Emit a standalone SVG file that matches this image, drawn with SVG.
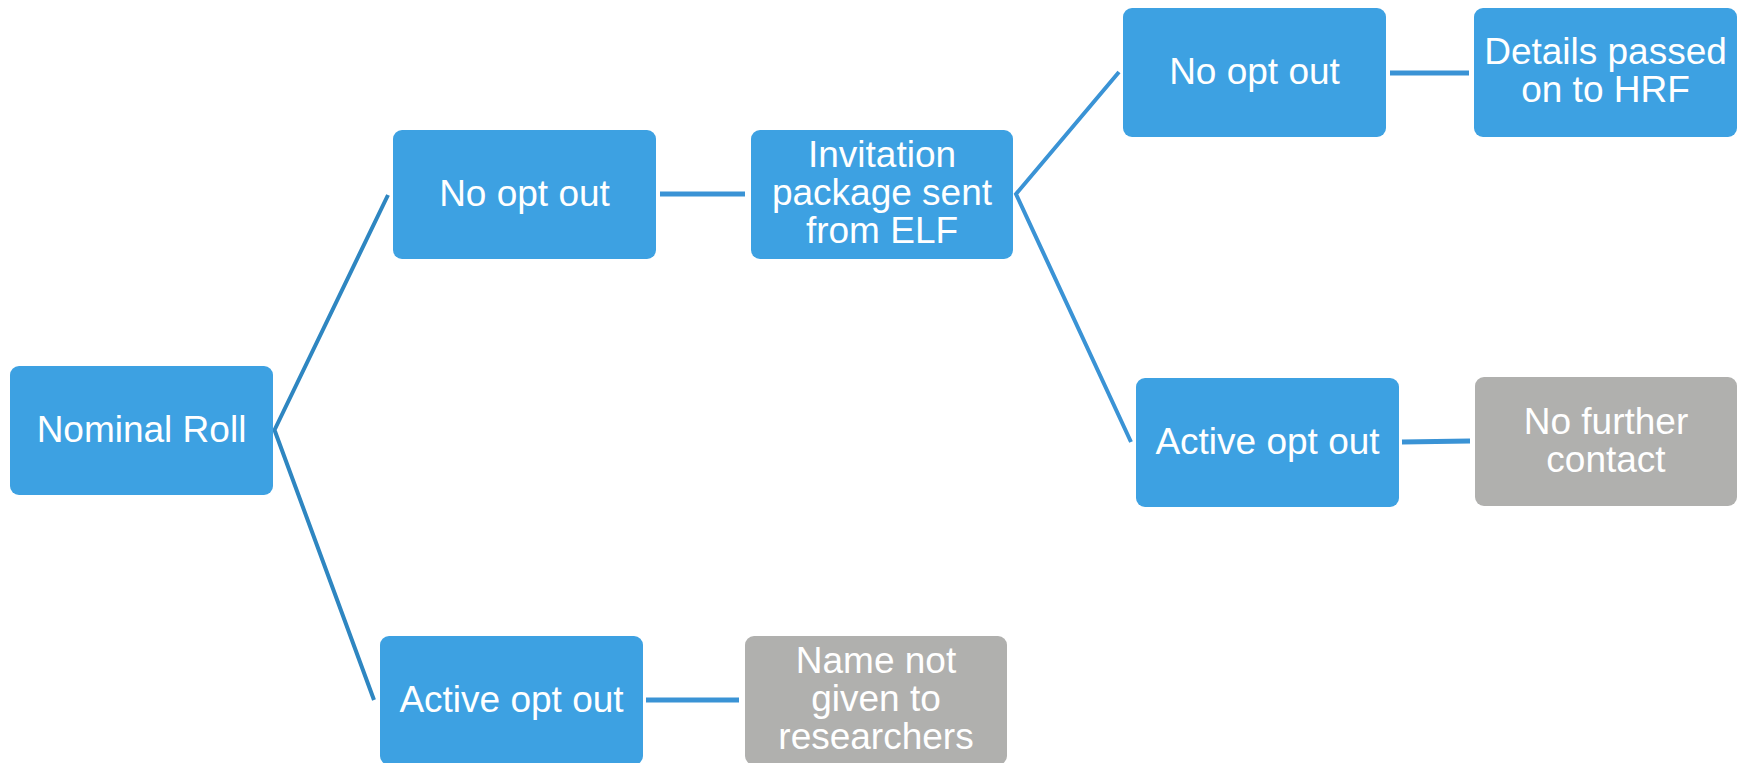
<svg xmlns="http://www.w3.org/2000/svg" width="1740" height="763" viewBox="0 0 1740 763">
<style>
.blue{fill:#3DA1E2}
.gray{fill:#B0B0AE}
text{font-family:"Liberation Sans",Arial,sans-serif;font-size:37px;fill:#FFFFFF;text-anchor:middle}
.c1{stroke:#2E86C1;stroke-width:4;fill:none}
.c2{stroke:#3A93D5;stroke-width:4;fill:none}
.h{stroke:#3A93D5;stroke-width:5;fill:none}
</style>
<rect width="1740" height="763" fill="#FFFFFF"/>
<g id="connectors">
<polyline class="c1" points="388,195 274.5,430 374,700"/>
<line class="h" x1="660" y1="194" x2="745" y2="194"/>
<polyline class="c2" points="1119,72 1016,194 1131,442"/>
<line class="h" x1="1390" y1="73" x2="1469" y2="73"/>
<line class="h" x1="1402" y1="442" x2="1470" y2="441"/>
<line class="h" x1="646" y1="700" x2="739" y2="700"/>
</g>
<g id="nominal-roll">
<rect class="blue" x="10" y="366" width="263" height="129" rx="9"/>
<text x="141.5" y="442">Nominal Roll</text>
</g>
<g id="no-opt-out-1">
<rect class="blue" x="393" y="130" width="263" height="129" rx="9"/>
<text x="524.5" y="206">No opt out</text>
</g>
<g id="invitation">
<rect class="blue" x="751" y="130" width="262" height="129" rx="9"/>
<text x="882" y="167">Invitation</text>
<text x="882" y="205">package sent</text>
<text x="882" y="243">from ELF</text>
</g>
<g id="no-opt-out-2">
<rect class="blue" x="1123" y="8" width="263" height="129" rx="9"/>
<text x="1254.5" y="84">No opt out</text>
</g>
<g id="details-passed">
<rect class="blue" x="1474" y="8" width="263" height="129" rx="9"/>
<text x="1605.5" y="64">Details passed</text>
<text x="1605.5" y="102">on to HRF</text>
</g>
<g id="active-opt-out-2">
<rect class="blue" x="1136" y="378" width="263" height="129" rx="9"/>
<text x="1267.5" y="454">Active opt out</text>
</g>
<g id="no-further-contact">
<rect class="gray" x="1475" y="377" width="262" height="129" rx="9"/>
<text x="1606" y="434">No further</text>
<text x="1606" y="472">contact</text>
</g>
<g id="active-opt-out-1">
<rect class="blue" x="380" y="636" width="263" height="129" rx="9"/>
<text x="511.5" y="712">Active opt out</text>
</g>
<g id="name-not-given">
<rect class="gray" x="745" y="636" width="262" height="129" rx="9"/>
<text x="876" y="673">Name not</text>
<text x="876" y="711">given to</text>
<text x="876" y="749">researchers</text>
</g>
</svg>
